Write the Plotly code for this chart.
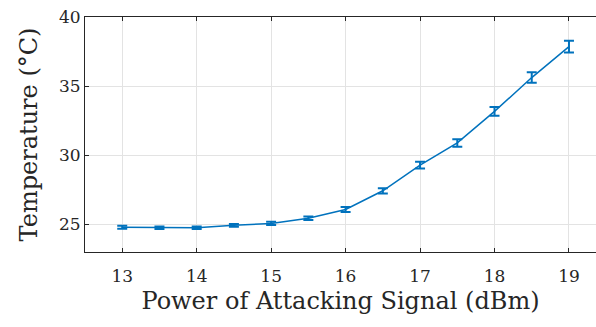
import plotly.graph_objects as go

# Attack power sweep and measured temperature (mean ± spread)
power_dbm = [13, 13.5, 14, 14.5, 15, 15.5, 16, 16.5, 17, 17.5, 18, 18.5, 19]
temp_c = [24.79, 24.76, 24.75, 24.93, 25.07, 25.44, 26.08, 27.43, 29.28, 30.89, 33.17, 35.62, 37.86]
temp_err = [0.10, 0.09, 0.09, 0.10, 0.11, 0.13, 0.18, 0.19, 0.24, 0.27, 0.32, 0.38, 0.42]

x_ticks = [13, 14, 15, 16, 17, 18, 19]
y_ticks = [25, 30, 35, 40]

LINE = "#0072BD"
AXIS = "#262626"
FONT = "DejaVu Serif, Liberation Serif, serif"

fig = go.Figure(
    go.Scatter(
        x=power_dbm,
        y=temp_c,
        mode="lines",
        line=dict(color=LINE, width=1.5),
        error_y=dict(type="data", array=temp_err, visible=True,
                     color=LINE, thickness=2, width=5),
        showlegend=False,
    )
)

axis_common = dict(
    showline=True, linecolor=AXIS, linewidth=1,
    ticks="inside", ticklen=4, tickcolor=AXIS, tickwidth=1,
    showgrid=True, gridcolor="#e3e3e3", gridwidth=1,
    zeroline=False,
    tickfont=dict(family=FONT, size=17, color=AXIS),
)

fig.update_layout(
    width=596, height=327,
    margin=dict(l=85, r=0, t=17, b=75),
    paper_bgcolor="white", plot_bgcolor="white",
    xaxis=dict(
        range=[12.5, 19.363], tickvals=x_ticks, mirror="ticks",
        ticklabelstandoff=9,
        title=dict(text="Power of Attacking Signal (dBm)",
                   font=dict(family=FONT, size=24, color=AXIS), standoff=6),
        **axis_common,
    ),
    yaxis=dict(
        range=[23, 40], tickvals=y_ticks,
        title=dict(text="Temperature (°C)",
                   font=dict(family=FONT, size=24, color=AXIS), standoff=14),
        **axis_common,
    ),
)

fig.write_html("out.html")
